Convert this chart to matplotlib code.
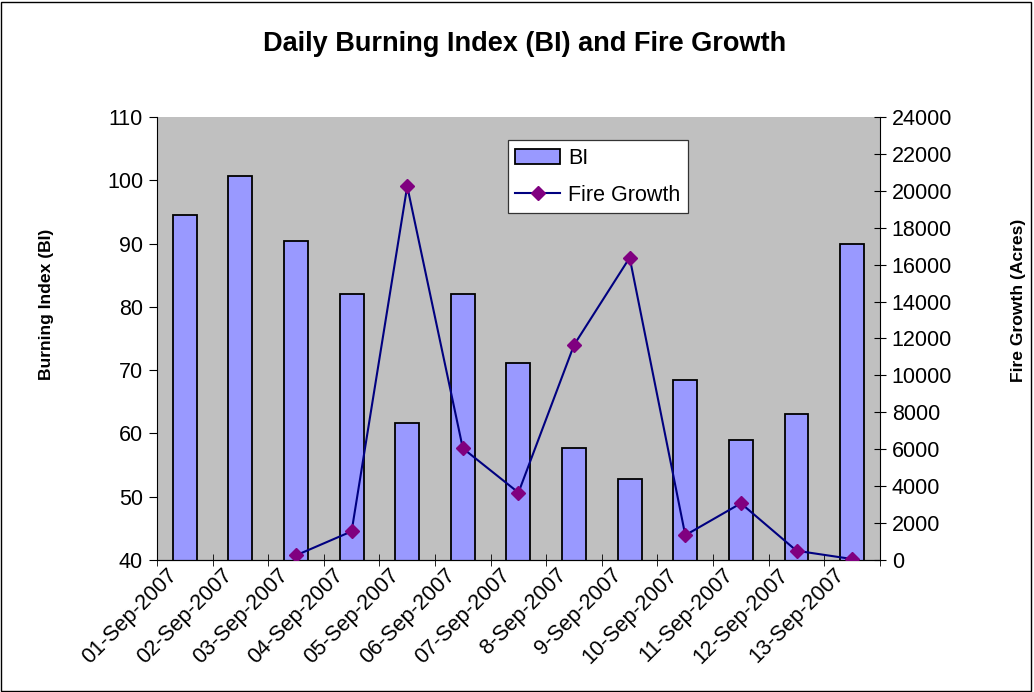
import numpy as np
import matplotlib
matplotlib.use('Agg')
import matplotlib.pyplot as plt
import matplotlib.transforms as mtransforms
from matplotlib.patches import Rectangle

plt.rcParams['font.family'] = ['Liberation Sans', 'DejaVu Sans']

dates = ['01-Sep-2007', '02-Sep-2007', '03-Sep-2007', '04-Sep-2007', '05-Sep-2007',
         '06-Sep-2007', '07-Sep-2007', '8-Sep-2007', '9-Sep-2007', '10-Sep-2007',
         '11-Sep-2007', '12-Sep-2007', '13-Sep-2007']
bi = [94.5, 100.7, 90.4, 82.1, 61.6, 82.1, 71.1, 57.7, 52.8, 68.4, 59.0, 63.0, 89.9]
growth = [np.nan, np.nan, 250, 1550, 20250, 6050, 3650, 11650, 16380, 1340, 3070, 500, 50]

x = np.arange(len(dates))

fig = plt.figure(figsize=(10.34, 6.92), dpi=100)
ax1 = fig.add_axes([0.1518, 0.1908, 0.6992, 0.6401])
ax1.set_facecolor('#C0C0C0')
ax1.bar(x, bi, width=0.43, bottom=0, color='#9999FF', edgecolor='black', linewidth=1.3,
        label='BI', zorder=2)
ax1.set_ylim(40, 110)
ax1.set_xlim(-0.5, len(dates) - 0.5)
ax1.set_yticks(np.arange(40, 111, 10))
ax1.tick_params(axis='y', direction='out', length=6, labelsize=15.5, pad=4)

ax1.set_xticks(x)
ax1.set_xticklabels(dates, rotation=45, ha='right', va='center', rotation_mode='anchor')
ax1.tick_params(axis='x', length=0, labelsize=15.5, pad=10)
shift = mtransforms.ScaledTranslation(-0.11, 0.02, fig.dpi_scale_trans)
for lab in ax1.get_xticklabels():
    lab.set_transform(lab.get_transform() + shift)
ax1.set_xticks(np.arange(-0.5, len(dates), 1), minor=True)
ax1.tick_params(axis='x', which='minor', direction='inout', length=9)

ax1.spines['top'].set_visible(False)
ax1.spines['right'].set_visible(False)
ax1.set_ylabel('Burning Index (BI)', fontsize=12.6, fontweight='bold', labelpad=38)
ax1.yaxis.label.set_y(0.578)

ax2 = ax1.twinx()
ax2.plot(x, growth, color='#000080', linewidth=1.5, marker='D', markersize=7,
         markerfacecolor='#800080', markeredgecolor='#800080', label='Fire Growth', zorder=3)
ax2.set_ylim(0, 24000)
ax2.set_yticks(np.arange(0, 24001, 2000))
ax2.tick_params(axis='y', direction='inout', length=9, labelsize=15.5, pad=4)
ax2.spines['top'].set_visible(False)
ax2.spines['left'].set_visible(False)
ax2.set_ylabel('Fire Growth (Acres)', fontsize=12.6, fontweight='bold', labelpad=42)
ax2.yaxis.label.set_y(0.585)

h1, l1 = ax1.get_legend_handles_labels()
h2, l2 = ax2.get_legend_handles_labels()
leg = ax2.legend(h1 + h2, l1 + l2, loc='upper left', bbox_to_anchor=(0.491, 0.797),
                 bbox_transform=fig.transFigure, borderaxespad=0, fontsize=15.5,
                 frameon=True, fancybox=False, edgecolor='#333333', facecolor='white',
                 framealpha=1, borderpad=0.35,
                 handlelength=2.1, handletextpad=0.35, labelspacing=0.72)
leg.get_frame().set_linewidth(0.9)

fig.suptitle('Daily Burning Index (BI) and Fire Growth', x=0.507, y=0.955,
             fontsize=19.5, fontweight='bold')

fig.patches.append(Rectangle((0.001, 0.001), 0.996, 0.996, transform=fig.transFigure,
                             fill=False, edgecolor='black', linewidth=1))

fig.savefig('out.png', dpi=100)
